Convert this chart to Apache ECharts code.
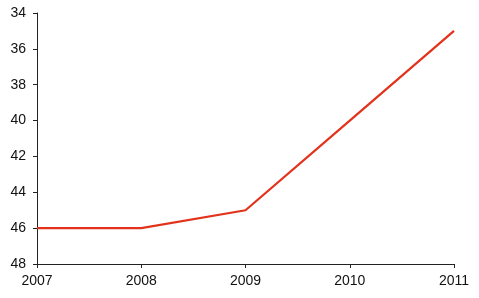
<!DOCTYPE html>
<html>
<head>
<meta charset="utf-8">
<script src="https://cdn.jsdelivr.net/npm/echarts@6/dist/echarts.min.js"></script>
<style>
html,body{margin:0;padding:0;background:#fff;}
#chart{width:479px;height:298px;}
</style>
</head>
<body>
<div id="chart"></div>
<script>
const categories = ['2007', '2008', '2009', '2010', '2011'];
const values = [46, 46, 45, 40, 35];
const yMin = 34, yMax = 48, yInterval = 2;

const chart = echarts.init(document.getElementById('chart'), null, {renderer: 'canvas'});
const axisLine = {show: true, lineStyle: {color: '#222', width: 1}};
const font = {fontFamily: 'Liberation Sans, Arial, sans-serif', fontSize: 14, color: '#111'};
chart.setOption({
  animation: false,
  grid: {left: 37, right: 25, top: 13, bottom: 34, containLabel: false},
  xAxis: {
    type: 'category',
    data: categories,
    boundaryGap: false,
    axisLine: axisLine,
    axisTick: {show: true, length: 4, alignWithLabel: true, lineStyle: {color: '#222'}},
    axisLabel: Object.assign({margin: 10}, font),
    splitLine: {show: false}
  },
  yAxis: {
    type: 'value',
    inverse: true,
    min: yMin, max: yMax, interval: yInterval,
    axisLine: axisLine,
    axisTick: {show: true, length: 4, lineStyle: {color: '#222'}},
    axisLabel: Object.assign({margin: 11}, font),
    splitLine: {show: false}
  },
  series: [{
    type: 'line',
    data: values,
    showSymbol: false,
    symbol: 'none',
    lineStyle: {color: '#e2321c', width: 2.2}
  }]
});
</script>
</body>
</html>
